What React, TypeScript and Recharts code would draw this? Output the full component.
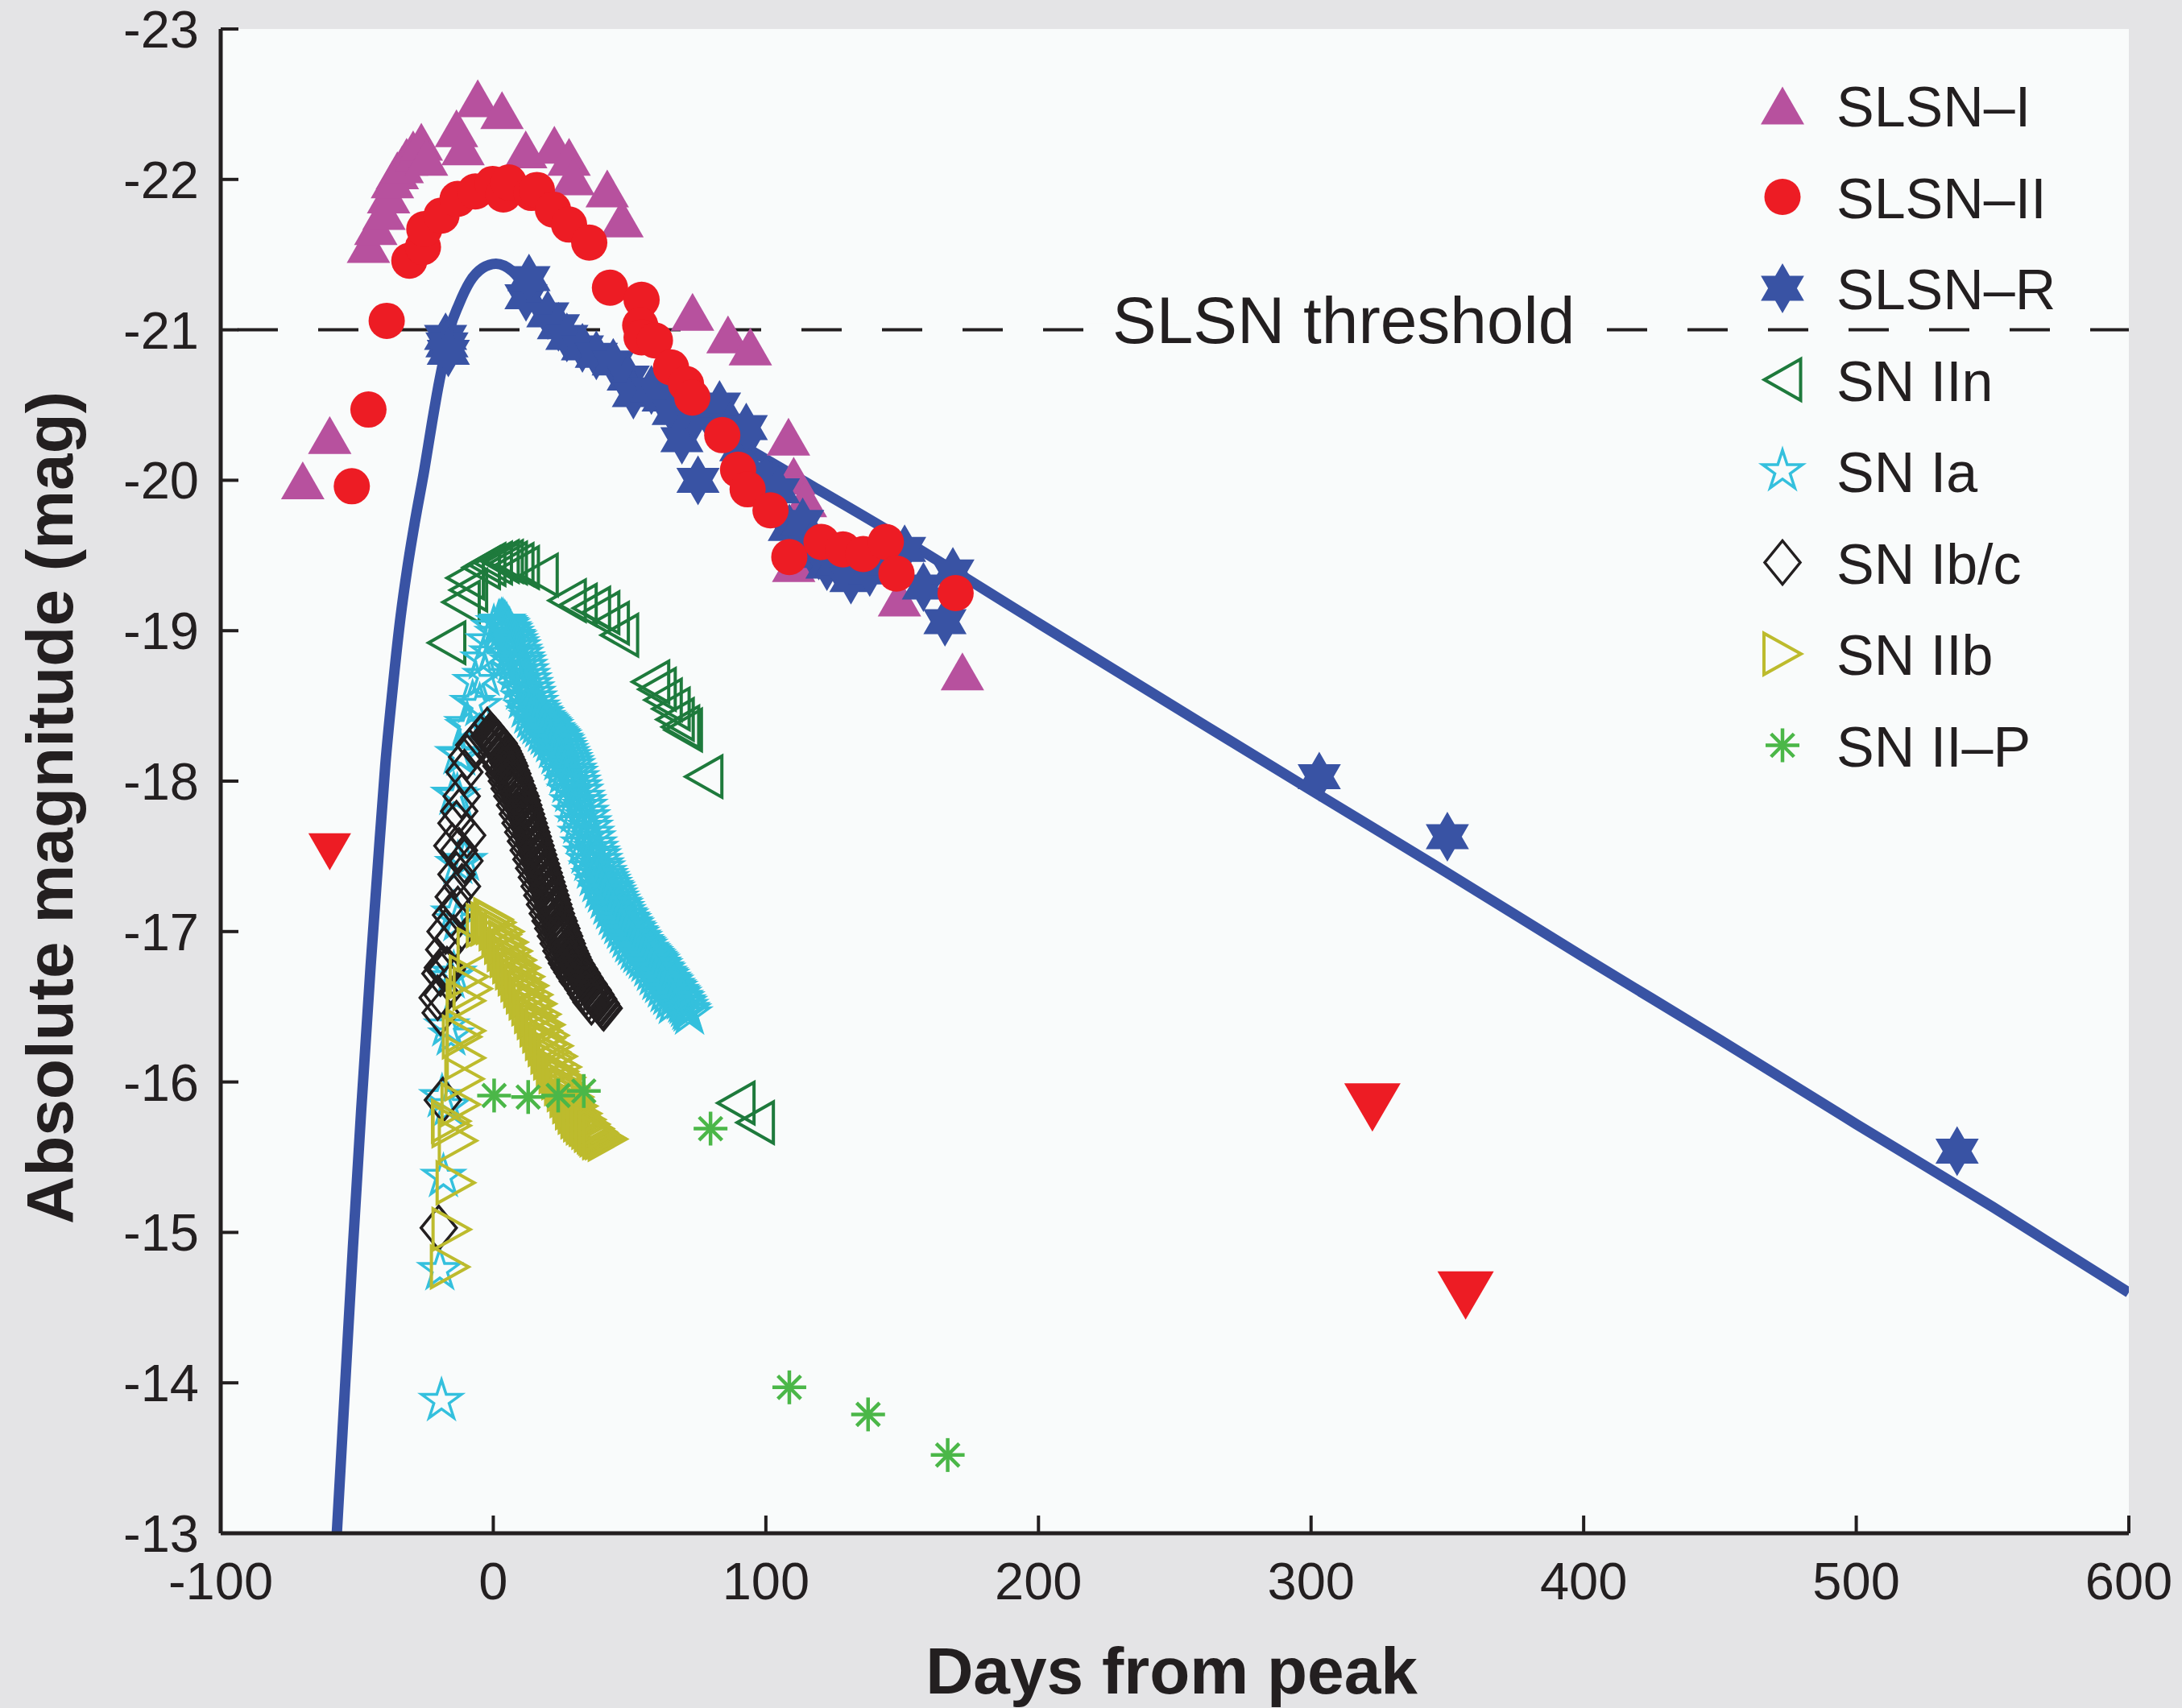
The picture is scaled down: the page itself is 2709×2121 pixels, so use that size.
import React from 'react';
import {
  ComposedChart,
  XAxis,
  YAxis,
  Scatter,
  Line,
  ReferenceLine,
  CartesianGrid,
  Legend,
} from 'recharts';

// ---------- look ----------
const FONT = '"Liberation Sans", Arial, Helvetica, sans-serif';
const INK = '#231f20';
const PLOT_BG = '#f9fbfb';
const PAGE_BG = '#e4e4e6';
const CHART_W = 2709;
const CHART_H = 2121;

// ---------- axes ----------
const dayTicks = [-100, 0, 100, 200, 300, 400, 500, 600];
const magTicks = [-23, -22, -21, -20, -19, -18, -17, -16, -15, -14, -13];
const SLSN_THRESHOLD = -21;

// ---------- data: [days from peak, absolute magnitude] ----------
const slsnI: number[][] = [
  [-69.9, -20.0], [-60.0, -20.3], [-45.8, -21.57], [-43.1, -21.69], [-40.1, -21.79],
  [-38.4, -21.9], [-37.0, -22.0], [-35.2, -22.06], [-33.4, -22.1], [-31.8, -22.15],
  [-29.4, -22.2], [-28.0, -22.18], [-26.4, -22.25], [-24.5, -22.15], [-13.5, -22.34],
  [-11.1, -22.22], [-5.7, -22.54], [3.2, -22.46], [11.9, -22.2], [22.4, -22.23],
  [27.8, -22.15], [29.3, -22.02], [41.8, -21.94], [47.2, -21.74], [73.1, -21.12],
  [86.1, -20.97], [94.3, -20.89], [108.3, -20.29], [110.2, -20.03], [114.5, -19.88],
  [110.2, -19.45], [149.0, -19.22], [172.1, -18.73],
];

const slsnII: number[][] = [
  [-51.9, -19.96], [-45.8, -20.47], [-39.1, -21.06], [-30.8, -21.46], [-25.8, -21.55],
  [-25.3, -21.67], [-19.0, -21.76], [-13.1, -21.87], [-6.6, -21.92], [-0.2, -21.97],
  [3.7, -21.9], [5.7, -21.98], [14.0, -21.91], [16.0, -21.93], [21.9, -21.8],
  [27.8, -21.7], [35.2, -21.58], [42.8, -21.28], [54.4, -21.2], [53.9, -21.03],
  [54.4, -20.95], [59.3, -20.93], [65.2, -20.75], [70.7, -20.64], [73.0, -20.55],
  [84.0, -20.3], [89.8, -20.07], [93.3, -19.94], [101.7, -19.8], [108.6, -19.49],
  [120.4, -19.59], [128.3, -19.54], [135.7, -19.51], [144.0, -19.59], [147.9, -19.38],
  [169.6, -19.25],
];

// upper limits (non-detections)
const limitsEarly: number[][] = [[-60.0, -17.53]];
const limitsLate: number[][] = [[322.5, -15.83], [356.7, -14.58]];

const slsnR: number[][] = [
  [-17.5, -20.95], [-17.0, -20.9], [-16.5, -20.85], [12.0, -21.22], [13.1, -21.34],
  [20.0, -21.1], [23.9, -21.02], [27.0, -20.95], [32.7, -20.88], [37.8, -20.83],
  [44.0, -20.78], [49.5, -20.68], [51.4, -20.57], [58.0, -20.6], [62.3, -20.54],
  [66.0, -20.45], [69.2, -20.27], [73.1, -20.43], [75.1, -20.0], [79.0, -20.43],
  [83.0, -20.5], [86.9, -20.36], [90.8, -20.21], [92.8, -20.35], [94.8, -20.04],
  [100.0, -20.0], [104.6, -19.93], [108.6, -19.68], [113.5, -19.72], [116.0, -19.55],
  [119.4, -19.5], [122.4, -19.43], [126.0, -19.45], [131.2, -19.34], [138.1, -19.39],
  [145.0, -19.45], [150.9, -19.54], [157.8, -19.29], [165.7, -19.06], [168.6, -19.39],
  [303.0, -18.03], [350.0, -17.63], [537.0, -15.54],
];

const snIIn: number[][] = [
  [-17.1, -18.92], [-11.8, -19.19], [-9.1, -19.27], [-10.3, -19.35], [-4.4, -19.42],
  [-2.4, -19.44], [0.0, -19.45], [2.5, -19.46], [4.0, -19.46], [5.5, -19.45],
  [7.9, -19.44], [9.9, -19.42], [16.8, -19.37], [27.1, -19.2], [31.1, -19.17],
  [36.0, -19.15], [39.4, -19.12], [42.9, -19.05], [46.3, -18.97], [57.7, -18.66],
  [60.1, -18.61], [62.3, -18.54], [65.2, -18.48], [66.7, -18.41], [68.7, -18.36],
  [69.7, -18.34], [77.2, -18.03], [89.0, -15.86], [96.1, -15.73],
];

const snIaRise: number[][] = [
  [-19.0, -13.88], [-19.6, -14.75], [-18.3, -15.37], [-18.8, -15.9], [-16.4, -15.84],
  [-15.5, -16.31], [-17.1, -16.37], [-14.5, -16.72], [-15.8, -16.69], [-13.0, -17.07],
  [-14.5, -17.12], [-13.0, -17.45], [-10.5, -17.47], [-14.5, -17.91], [-13.2, -17.9],
  [-13.0, -18.18], [-11.9, -18.17], [-9.6, -18.38], [-9.3, -18.36], [-7.6, -18.52],
  [-6.6, -18.66], [-5.0, -18.5], [-3.7, -18.81], [-3.0, -18.7], [-1.7, -18.93],
  [-0.5, -18.85], [0.2, -19.02], [1.5, -18.98],
];

const snIaDecline: number[][] = [
  [2, -19.05], [2.5, -19.05], [3, -19.06], [3.5, -19.06], [4, -19.05], [4.5, -19.04],
  [5, -19.03], [5.5, -19.01], [6, -19.0], [6.5, -18.98], [7, -18.96], [7.5, -18.95],
  [8, -18.93], [8.5, -18.91], [9, -18.89], [9.5, -18.86], [10, -18.84], [10.5, -18.81],
  [11, -18.79], [11.5, -18.76], [12, -18.73], [12.5, -18.7], [13, -18.67], [13.5, -18.64],
  [14, -18.61], [14.5, -18.58], [15, -18.55], [15.5, -18.52], [16, -18.49], [16.5, -18.47],
  [17, -18.45], [17.5, -18.44], [18, -18.42], [18.5, -18.41], [19, -18.4], [19.5, -18.39],
  [20, -18.38], [20.5, -18.37], [21, -18.36], [21.5, -18.34], [22, -18.33], [22.5, -18.32],
  [23, -18.31], [23.5, -18.3], [24, -18.29], [24.5, -18.27], [25, -18.26], [25.5, -18.24],
  [26, -18.22], [26.5, -18.2], [27, -18.18], [27.5, -18.16], [28, -18.14], [28.5, -18.12],
  [29, -18.1], [29.5, -18.07], [30, -18.05], [30.5, -18.02], [31, -17.99], [31.5, -17.96],
  [32, -17.93], [32.5, -17.89], [33, -17.86], [33.5, -17.83], [34, -17.79], [34.5, -17.76],
  [35, -17.72], [35.5, -17.69], [36, -17.65], [36.5, -17.62], [37, -17.58], [37.5, -17.55],
  [38, -17.52], [38.5, -17.5], [39, -17.47], [39.5, -17.44], [40, -17.42], [40.5, -17.39],
  [41, -17.37], [41.5, -17.35], [42, -17.33], [42.5, -17.31], [43, -17.29], [43.5, -17.28],
  [44, -17.26], [44.5, -17.24], [45, -17.22], [45.5, -17.2], [46, -17.18], [46.5, -17.17],
  [47, -17.15], [47.5, -17.13], [48, -17.11], [48.5, -17.1], [49, -17.08], [49.5, -17.07],
  [50, -17.05], [50.5, -17.04], [51, -17.02], [51.5, -17.01], [52, -16.99], [52.5, -16.98],
  [53, -16.96], [53.5, -16.95], [54, -16.93], [54.5, -16.92], [55, -16.91], [55.5, -16.9],
  [56, -16.88], [56.5, -16.87], [57, -16.86], [57.5, -16.85], [58, -16.84], [58.5, -16.83],
  [59, -16.82], [59.5, -16.81], [60, -16.8], [60.5, -16.78], [61, -16.77], [61.5, -16.75],
  [62, -16.74], [62.5, -16.72], [63, -16.71], [63.5, -16.7], [64, -16.68], [64.5, -16.67],
  [65, -16.66], [65.5, -16.64], [66, -16.63], [66.5, -16.62], [67, -16.6], [67.5, -16.59],
  [68, -16.58], [68.5, -16.56], [69, -16.55], [69.5, -16.53], [70, -16.52], [70.5, -16.5],
  [71, -16.48], [71.5, -16.47], [72, -16.45],
];

// a second, faster-declining Ia
const snIaDeclineFast: number[][] = [
  [6, -18.84], [7, -18.79], [8, -18.73], [9, -18.67], [10, -18.61], [11, -18.55],
  [12, -18.49], [13, -18.45], [14, -18.42], [15, -18.4], [16, -18.38], [17, -18.36],
  [18, -18.33], [19, -18.31], [20, -18.29], [21, -18.26], [22, -18.22], [23, -18.18],
  [24, -18.14], [25, -18.1], [26, -18.05], [27, -17.99], [28, -17.93], [29, -17.86],
  [30, -17.79], [31, -17.72], [32, -17.65], [33, -17.58], [34, -17.52], [35, -17.47],
  [36, -17.42], [37, -17.37], [38, -17.33], [39, -17.29], [40, -17.26], [41, -17.22],
  [42, -17.18], [43, -17.15], [44, -17.11], [45, -17.08], [46, -17.05], [47, -17.02],
  [48, -16.99], [49, -16.96], [50, -16.93], [51, -16.91], [52, -16.88], [53, -16.86],
  [54, -16.84], [55, -16.82], [56, -16.8], [57, -16.77], [58, -16.74], [59, -16.71],
  [60, -16.68], [61, -16.66], [62, -16.63], [63, -16.6], [64, -16.58], [65, -16.55],
  [66, -16.52],
];

const snIbcRise: number[][] = [
  [-2.2, -18.34], [-4.7, -18.29], [-7.0, -18.24], [-9.6, -18.16], [-10.6, -18.06],
  [-11.6, -17.9], [-12.5, -17.8], [-13.5, -17.72], [-15.0, -17.57], [-9.6, -17.64],
  [-12.6, -17.54], [-10.6, -17.47], [-13.5, -17.38], [-11.5, -17.3], [-14.5, -17.23],
  [-15.5, -17.11], [-13.0, -17.15], [-17.5, -17.0], [-14.5, -16.96], [-18.0, -16.88],
  [-18.5, -16.76], [-19.4, -16.72], [-17.0, -16.75], [-20.4, -16.56], [-19.3, -16.46],
  [-18.7, -16.58], [-18.5, -15.88], [-20.0, -15.03],
];

const snIbcDecline: number[][] = [
  [-1.5, -18.3], [-1, -18.3], [-0.5, -18.3], [0, -18.29], [0.5, -18.28], [1, -18.27],
  [1.5, -18.26], [2, -18.25], [2.5, -18.23], [3, -18.22], [3.5, -18.2], [4, -18.18],
  [4.5, -18.16], [5, -18.14], [5.5, -18.12], [6, -18.1], [6.5, -18.07], [7, -18.05],
  [7.5, -18.02], [8, -18.0], [8.5, -17.97], [9, -17.95], [9.5, -17.92], [10, -17.9],
  [10.5, -17.87], [11, -17.84], [11.5, -17.81], [12, -17.78], [12.5, -17.75], [13, -17.72],
  [13.5, -17.69], [14, -17.66], [14.5, -17.63], [15, -17.6], [15.5, -17.57], [16, -17.54],
  [16.5, -17.51], [17, -17.48], [17.5, -17.45], [18, -17.42], [18.5, -17.39], [19, -17.36],
  [19.5, -17.33], [20, -17.3], [20.5, -17.27], [21, -17.24], [21.5, -17.21], [22, -17.18],
  [22.5, -17.15], [23, -17.12], [23.5, -17.09], [24, -17.07], [24.5, -17.04], [25, -17.02],
  [25.5, -16.99], [26, -16.97], [26.5, -16.94], [27, -16.92], [27.5, -16.89], [28, -16.87],
  [28.5, -16.85], [29, -16.83], [29.5, -16.81], [30, -16.79], [30.5, -16.78], [31, -16.76],
  [31.5, -16.75], [32, -16.73], [32.5, -16.72], [33, -16.7], [33.5, -16.69], [34, -16.67],
  [34.5, -16.66], [35, -16.65], [35.5, -16.63], [36, -16.62], [36.5, -16.61], [37, -16.59],
  [37.5, -16.58], [38, -16.56], [38.5, -16.55], [39, -16.53], [39.5, -16.52], [40, -16.5],
  [40.5, -16.49],
];

// a second, faster-declining Ib/c
const snIbcDeclineFast: number[][] = [
  [1, -18.18], [2, -18.14], [3, -18.1], [4, -18.05], [5, -18.0], [6, -17.95],
  [7, -17.9], [8, -17.84], [9, -17.78], [10, -17.72], [11, -17.66], [12, -17.6],
  [13, -17.54], [14, -17.48], [15, -17.42], [16, -17.36], [17, -17.3], [18, -17.24],
  [19, -17.18], [20, -17.12], [21, -17.07], [22, -17.02], [23, -16.97], [24, -16.92],
  [25, -16.87], [26, -16.83], [27, -16.79], [28, -16.76], [29, -16.73], [30, -16.7],
  [31, -16.67], [32, -16.65], [33, -16.62], [34, -16.59], [35, -16.56], [36, -16.53],
];

const snIIbRise: number[][] = [
  [-2.7, -17.04], [-6.1, -16.88], [-7.6, -16.62], [-9.0, -16.7], [-10.1, -16.54],
  [-10.1, -16.34], [-11.5, -16.3], [-10.1, -16.16], [-10.6, -16.02], [-12.0, -15.85],
  [-15.5, -15.74], [-15.3, -15.71], [-13.0, -15.61], [-13.8, -15.33], [-15.3, -15.02],
  [-15.9, -14.77],
];

const snIIbDecline: number[][] = [
  [-1, -17.05], [0, -17.08], [1, -17.06], [2, -17.02], [3, -16.98], [4, -16.93],
  [5, -16.88], [6, -16.84], [7, -16.8], [8, -16.76], [9, -16.72], [10, -16.68],
  [11, -16.64], [12, -16.6], [13, -16.56], [14, -16.52], [15, -16.47], [16, -16.43],
  [17, -16.38], [18, -16.34], [19, -16.29], [20, -16.25], [21, -16.2], [22, -16.16],
  [23, -16.12], [24, -16.07], [25, -16.03], [26, -15.99], [27, -15.95], [28, -15.91],
  [29, -15.87], [30, -15.83], [31, -15.8], [32, -15.77], [33, -15.75], [34, -15.73],
  [35, -15.72], [36, -15.7], [37, -15.68], [38, -15.67], [39, -15.65], [40, -15.64],
  [41, -15.63], [42, -15.62],
  [4, -17.0], [5.5, -16.93], [7, -16.87], [8.5, -16.81], [10, -16.76], [11.5, -16.7],
  [13, -16.64], [14.5, -16.58], [16, -16.52], [17.5, -16.45], [19, -16.38], [20.5, -16.31],
  [22, -16.24], [23.5, -16.17], [25, -16.1], [26.5, -16.03], [28, -15.96], [29.5, -15.9],
  [31, -15.84], [32.5, -15.79], [34, -15.75], [35.5, -15.72], [37, -15.69], [38.5, -15.66],
  [40, -15.63],
];

const snIIP: number[][] = [
  [0.3, -15.91], [12.8, -15.9], [23.8, -15.91], [33.2, -15.94], [79.7, -15.69],
  [108.6, -13.97], [137.5, -13.79], [166.7, -13.52],
];

// magnetar-style model light curve
const modelCurve: number[][] = [
  [-57.4, -13.0], [-54.3, -14.0], [-51.5, -14.9], [-48.5, -15.8], [-45.0, -16.77],
  [-42.5, -17.4], [-39.6, -18.11], [-37.0, -18.6], [-34.3, -19.05], [-31.5, -19.42],
  [-28.8, -19.72], [-25.3, -20.07], [-22.5, -20.38], [-20.4, -20.6], [-18.0, -20.82],
  [-16.0, -21.0], [-12.6, -21.17], [-8.6, -21.32], [-4.0, -21.41], [1.0, -21.44],
  [7.0, -21.39], [12.0, -21.28], [17.0, -21.14], [22.0, -21.02], [27.0, -20.93],
  [32.0, -20.86], [38.0, -20.8], [45.0, -20.73], [60.0, -20.57], [80.0, -20.35],
  [100.0, -20.14], [150.0, -19.61], [200.0, -19.05], [262.0, -18.36], [300.0, -17.94],
  [350.0, -17.39], [400.0, -16.83], [450.0, -16.28], [500.0, -15.72], [550.0, -15.17],
  [600.0, -14.6],
];

const toPoints = (pairs: number[][]) => pairs.map(([x, y]) => ({ x, y }));

// ---------- markers ----------
type MarkerSpec = {
  kind: 'triUp' | 'triDown' | 'triLeft' | 'triRight' | 'circle' | 'hexagram' | 'star5' | 'diamond' | 'asterisk';
  color: string;
  filled: boolean;
  w?: number;
  h?: number;
  r?: number;
  sw?: number;
};

const poly = (pts: number[][]) => pts.map((p) => `${p[0].toFixed(2)},${p[1].toFixed(2)}`).join(' ');

const radial = (cx: number, cy: number, outer: number, inner: number, n: number) => {
  const pts: number[][] = [];
  for (let i = 0; i < n * 2; i++) {
    const a = (-90 + (i * 180) / n) * (Math.PI / 180);
    const rr = i % 2 === 0 ? outer : inner;
    pts.push([cx + rr * Math.cos(a), cy + rr * Math.sin(a)]);
  }
  return pts;
};

function Marker({ spec, cx, cy }: { spec: MarkerSpec; cx?: number; cy?: number }) {
  if (cx == null || cy == null || Number.isNaN(cx) || Number.isNaN(cy)) return null;
  const { kind, color, filled, w = 0, h = 0, r = 0, sw = 3.5 } = spec;
  const paint = filled
    ? { fill: color, stroke: 'none' }
    : { fill: 'none', stroke: color, strokeWidth: sw, strokeLinejoin: 'miter' as const };
  switch (kind) {
    case 'circle':
      return <circle cx={cx} cy={cy} r={r} {...paint} />;
    case 'triUp':
      return <polygon points={poly([[cx - w / 2, cy + h / 2], [cx + w / 2, cy + h / 2], [cx, cy - h / 2]])} {...paint} />;
    case 'triDown':
      return <polygon points={poly([[cx - w / 2, cy - h / 2], [cx + w / 2, cy - h / 2], [cx, cy + h / 2]])} {...paint} />;
    case 'triLeft':
      return <polygon points={poly([[cx - w / 2, cy], [cx + w / 2, cy - h / 2], [cx + w / 2, cy + h / 2]])} {...paint} />;
    case 'triRight':
      return <polygon points={poly([[cx + w / 2, cy], [cx - w / 2, cy - h / 2], [cx - w / 2, cy + h / 2]])} {...paint} />;
    case 'diamond':
      return <polygon points={poly([[cx, cy - h / 2], [cx + w / 2, cy], [cx, cy + h / 2], [cx - w / 2, cy]])} {...paint} />;
    case 'hexagram':
      return <polygon points={poly(radial(cx, cy, r, r / Math.sqrt(3), 6))} {...paint} />;
    case 'star5':
      return <polygon points={poly(radial(cx, cy, r, r * 0.382, 5))} {...paint} />;
    case 'asterisk': {
      const d = r * 0.68;
      return (
        <g stroke={color} strokeWidth={sw} strokeLinecap="butt">
          <line x1={cx - r} y1={cy} x2={cx + r} y2={cy} />
          <line x1={cx} y1={cy - r} x2={cx} y2={cy + r} />
          <line x1={cx - d} y1={cy - d} x2={cx + d} y2={cy + d} />
          <line x1={cx - d} y1={cy + d} x2={cx + d} y2={cy - d} />
        </g>
      );
    }
    default:
      return null;
  }
}

const M = {
  slsnI: { kind: 'triUp', color: '#b7519e', filled: true, w: 54, h: 47 } as MarkerSpec,
  slsnII: { kind: 'circle', color: '#ed1c24', filled: true, r: 22.5 } as MarkerSpec,
  slsnR: { kind: 'hexagram', color: '#3953a4', filled: true, r: 31 } as MarkerSpec,
  limitSmall: { kind: 'triDown', color: '#ed1c24', filled: true, w: 53, h: 46 } as MarkerSpec,
  limitLarge: { kind: 'triDown', color: '#ed1c24', filled: true, w: 70, h: 60 } as MarkerSpec,
  iin: { kind: 'triLeft', color: '#1e7a3c', filled: false, w: 45, h: 51, sw: 4 } as MarkerSpec,
  ia: { kind: 'star5', color: '#34c0dd', filled: false, r: 26, sw: 3.5 } as MarkerSpec,
  ibc: { kind: 'diamond', color: INK, filled: false, w: 44, h: 54, sw: 3.5 } as MarkerSpec,
  iib: { kind: 'triRight', color: '#bdbb2d', filled: false, w: 46, h: 51, sw: 4 } as MarkerSpec,
  iip: { kind: 'asterisk', color: '#4bb748', filled: false, r: 21, sw: 4.5 } as MarkerSpec,
};

// drawing order: first listed is lowest
const SCATTERS: { id: string; data: number[][]; marker: MarkerSpec }[] = [
  { id: 'sn-iin', data: snIIn, marker: M.iin },
  { id: 'sn-ia-rise', data: snIaRise, marker: M.ia },
  { id: 'sn-ia-decline', data: snIaDecline, marker: M.ia },
  { id: 'sn-ia-decline-fast', data: snIaDeclineFast, marker: M.ia },
  { id: 'sn-ibc-rise', data: snIbcRise, marker: M.ibc },
  { id: 'sn-ibc-decline', data: snIbcDecline, marker: M.ibc },
  { id: 'sn-ibc-decline-fast', data: snIbcDeclineFast, marker: M.ibc },
  { id: 'sn-iib-rise', data: snIIbRise, marker: M.iib },
  { id: 'sn-iib-decline', data: snIIbDecline, marker: M.iib },
  { id: 'sn-iip', data: snIIP, marker: M.iip },
  { id: 'slsn-i', data: slsnI, marker: M.slsnI },
  { id: 'slsn-r', data: slsnR, marker: M.slsnR },
  { id: 'slsn-ii', data: slsnII, marker: M.slsnII },
  { id: 'limits-early', data: limitsEarly, marker: M.limitSmall },
  { id: 'limits-late', data: limitsLate, marker: M.limitLarge },
];

const LEGEND_ITEMS: { name: string; marker: MarkerSpec }[] = [
  { name: 'SLSN–I', marker: M.slsnI },
  { name: 'SLSN–II', marker: M.slsnII },
  { name: 'SLSN–R', marker: M.slsnR },
  { name: 'SN IIn', marker: M.iin },
  { name: 'SN Ia', marker: M.ia },
  { name: 'SN Ib/c', marker: M.ibc },
  { name: 'SN IIb', marker: M.iib },
  { name: 'SN II–P', marker: M.iip },
];

const LegendBox = () => (
  <svg width={500} height={940} style={{ display: 'block', overflow: 'visible' }}>
    {LEGEND_ITEMS.map((item, i) => {
      const y = 61 + i * 113.5;
      return (
        <g key={item.name}>
          <Marker spec={item.marker} cx={53} cy={y} />
          <text x={120} y={y + 26} fontSize={70} fill={INK} fontFamily={FONT}>
            {item.name}
          </text>
        </g>
      );
    })}
  </svg>
);

const ThresholdLabel = (props: any) => {
  const vb = props?.viewBox || {};
  const x0 = typeof vb.x === 'number' ? vb.x : 274;
  const y0 = typeof vb.y === 'number' ? vb.y : 410;
  return (
    <g>
      <rect x={x0 + 1073} y={y0 - 8} width={643} height={16} fill={PLOT_BG} />
      <text x={x0 + 1107} y={y0 + 16} fontSize={82} fill={INK} fontFamily={FONT}>
        SLSN threshold
      </text>
    </g>
  );
};

const XTitle = (props: any) => {
  const vb = props?.viewBox || {};
  const x = (typeof vb.x === 'number' ? vb.x : 274) + (typeof vb.width === 'number' ? vb.width : 2369) / 2 - 4;
  const y = (typeof vb.y === 'number' ? vb.y : 1904) + 199;
  return (
    <text x={x} y={y} textAnchor="middle" fontSize={82} fontWeight="bold" fill={INK} fontFamily={FONT}>
      Days from peak
    </text>
  );
};

const YTitle = (props: any) => {
  const vb = props?.viewBox || {};
  const cy = (typeof vb.y === 'number' ? vb.y : 36) + (typeof vb.height === 'number' ? vb.height : 1868) / 2 + 33;
  const bx = 90;
  return (
    <text
      x={bx}
      y={cy}
      transform={`rotate(-90, ${bx}, ${cy})`}
      textAnchor="middle"
      fontSize={82}
      fontWeight="bold"
      fill={INK}
      fontFamily={FONT}
    >
      Absolute magnitude (mag)
    </text>
  );
};

const axisLine = { stroke: INK, strokeWidth: 5 };
const tickLine = { stroke: INK, strokeWidth: 4 };
const tickFont = { fontSize: 65, fill: INK, fontFamily: FONT };

export default function App() {
  return (
    <div
      style={{
        position: 'absolute',
        left: 0,
        top: 0,
        width: CHART_W,
        height: CHART_H,
        background: PAGE_BG,
        fontFamily: FONT,
      }}
    >
      <ComposedChart width={CHART_W} height={CHART_H} margin={{ top: 36, right: 66, bottom: 0, left: 0 }}>
        <CartesianGrid horizontal={false} vertical={false} fill={PLOT_BG} stroke="none" />
        <XAxis
          type="number"
          dataKey="x"
          domain={[-100, 600]}
          ticks={dayTicks}
          interval={0}
          allowDataOverflow
          height={217}
          axisLine={axisLine}
          tickLine={tickLine}
          tickSize={-22}
          tickMargin={58}
          tick={tickFont}
          label={XTitle}
        />
        <XAxis
          xAxisId="top"
          orientation="top"
          type="number"
          domain={[-100, 600]}
          ticks={dayTicks}
          interval={0}
          allowDataOverflow
          height={0}
          axisLine={axisLine}
          tickLine={tickLine}
          tickSize={-22}
          tick={false}
        />
        <YAxis
          type="number"
          dataKey="y"
          domain={[-23, -13]}
          reversed
          ticks={magTicks}
          interval={0}
          allowDataOverflow
          width={274}
          axisLine={axisLine}
          tickLine={tickLine}
          tickSize={-22}
          tickMargin={49}
          tick={tickFont}
          label={YTitle}
        />
        <YAxis
          yAxisId="right"
          orientation="right"
          type="number"
          domain={[-23, -13]}
          reversed
          ticks={magTicks}
          interval={0}
          allowDataOverflow
          width={0}
          axisLine={axisLine}
          tickLine={tickLine}
          tickSize={-22}
          tick={false}
        />
        <ReferenceLine
          y={SLSN_THRESHOLD}
          stroke={INK}
          strokeWidth={4}
          strokeDasharray="50 50"
          strokeDashoffset={79}
          label={ThresholdLabel}
        />
        <Line
          data={toPoints(modelCurve)}
          dataKey="y"
          type="monotone"
          stroke="#3953a4"
          strokeWidth={13}
          dot={false}
          activeDot={false}
          legendType="none"
          isAnimationActive={false}
        />
        {SCATTERS.map((s) => (
          <Scatter
            key={s.id}
            name={s.id}
            data={toPoints(s.data)}
            dataKey="y"
            isAnimationActive={false}
            shape={(p: any) => <Marker spec={s.marker} cx={p.cx} cy={p.cy} />}
          />
        ))}
        <Legend
          layout="vertical"
          align="center"
          verticalAlign="middle"
          content={() => <LegendBox />}
          wrapperStyle={{ left: 2160, top: 70, width: 500, height: 940 }}
        />
      </ComposedChart>
    </div>
  );
}
